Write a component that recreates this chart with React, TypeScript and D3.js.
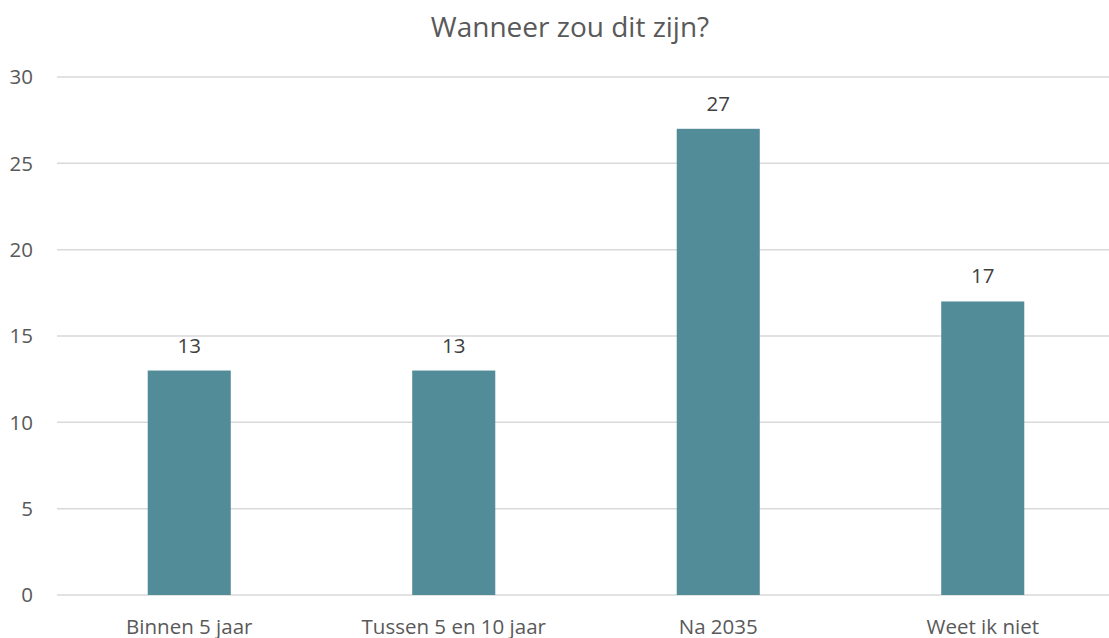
import React from "react";
import * as d3 from "d3";

const categories = ["Binnen 5 jaar", "Tussen 5 en 10 jaar", "Na 2035", "Weet ik niet"];
const values = [13, 13, 27, 17];
const yTicks = [0, 5, 10, 15, 20, 25, 30];
const title = "Wanneer zou dit zijn?";

const W = 1109;
const H = 638;
const FONT = "'Open Sans', sans-serif";
const FS = 20.5;

export default function App() {
  const x = d3
    .scaleBand<string>()
    .domain(categories)
    .range([57, 1115])
    .paddingInner(0.686)
    .paddingOuter(0.343);
  const y = d3.scaleLinear().domain([0, 30]).range([595, 77]);

  return (
    <svg
      width={W}
      height={H}
      style={{ position: "absolute", left: 0, top: 0, background: "#fff" }}
    >
      <text
        x={570}
        y={37}
        textAnchor="middle"
        fontFamily={FONT}
        fontSize={28}
        fill="#595959"
      >
        {title}
      </text>
      {yTicks.map((t) => (
        <g key={t}>
          <line x1={57} x2={W} y1={y(t)} y2={y(t)} stroke="#d9d9d9" strokeWidth={1.5} />
          <text
            x={33}
            y={y(t)}
            dy="0.35em"
            textAnchor="end"
            fontFamily={FONT}
            fontSize={FS}
            fill="#595959"
          >
            {t}
          </text>
        </g>
      ))}
      {categories.map((c, i) => (
        <g key={c}>
          <rect
            x={x(c)!}
            y={y(values[i])}
            width={x.bandwidth()}
            height={y(0) - y(values[i])}
            fill="#528c99"
          />
          <text
            x={x(c)! + x.bandwidth() / 2}
            y={y(values[i]) - 18}
            textAnchor="middle"
            fontFamily={FONT}
            fontSize={FS}
            fill="#404040"
          >
            {values[i]}
          </text>
          <text
            x={x(c)! + x.bandwidth() / 2}
            y={634}
            textAnchor="middle"
            fontFamily={FONT}
            fontSize={FS}
            fill="#595959"
          >
            {c}
          </text>
        </g>
      ))}
    </svg>
  );
}
